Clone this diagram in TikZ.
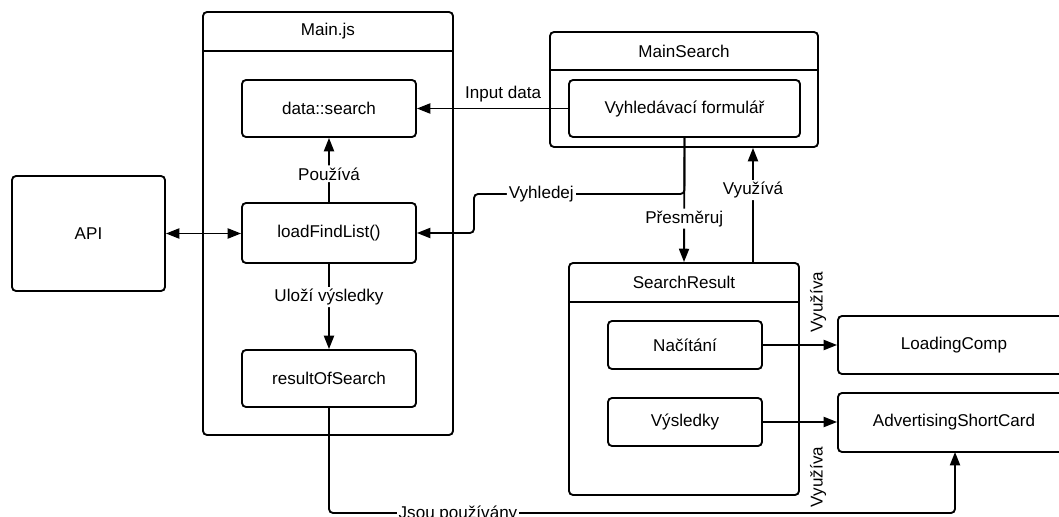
\documentclass[tikz,border=0pt]{standalone}
\usepackage{fontspec}
\setmainfont{Liberation Sans}
\usetikzlibrary{arrows.meta,fit}
\begin{document}
\begin{tikzpicture}[x=0.75pt,y=-0.75pt,
  font=\fontsize{12.8}{15}\selectfont,
  line width=1.4pt,
  box/.style={draw, rounded corners=3pt, inner sep=0pt},
  named/.style={label={[inner sep=0pt]center:#1}},
  link/.style={-{Triangle[length=10pt,width=7.5pt]}, rounded corners=3pt},
  lbl/.style={fill=white, inner sep=1.5pt},
  vlbl/.style={rotate=90, inner sep=1pt}]
\useasboundingbox (0,0) rectangle (1059,517);
\clip (0,0) rectangle (1059,517);

% Main.js container
\node[box, fit={(203,12) (453,435)}] (mainjs) {};
\draw (mainjs.west |- 0,51) -- (mainjs.east |- 0,51);
\node (mainjsT) at (328,31.5) {Main.js};

\node[box, fit={(242,80) (416,137)}, named={data::search}] (search) {};
\node[box, fit={(242,203) (416,263)}, named={loadFindList()}] (load) {};
\node[box, fit={(242,350) (416,407)}, named={resultOfSearch}] (result) {};

% external API
\node[box, fit={(12,176) (165,291)}, named={API}] (api) {};

% MainSearch container
\node[box, fit={(550,32) (818,147)}] (ms) {};
\draw (ms.west |- 0,70) -- (ms.east |- 0,70);
\node (msT) at (684,51) {MainSearch};
\node[box, fit={(569,80) (800,137)}, named={Vyhledávací formulář}] (form) {};

% SearchResult container
\node[box, fit={(569,263) (799,495)}] (sr) {};
\draw (sr.west |- 0,302) -- (sr.east |- 0,302);
\node (srT) at (684,282.5) {SearchResult};
\node[box, fit={(608,321) (762,369)}, named={Načítání}] (nac) {};
\node[box, fit={(608,398) (762,446)}, named={Výsledky}] (vys) {};

% components on the right
\node[box, fit={(838,316) (1070,374)}] (lc) {};
\node at (954,345) {LoadingComp};
\node[box, fit={(838,393) (1070,452)}] (asc) {};
\node at (954,422.5) {AdvertisingShortCard};

% connectors inside Main.js
\draw[link] (load.north) -- node[lbl, pos=0.44] {Používá} (search.south);
\draw[link] (load.south) -- node[lbl, pos=0.39] {Uloží výsledky} (result.north);
\draw[{Triangle[length=10pt,width=7.5pt]}-{Triangle[length=10pt,width=7.5pt]}] (api.east) -- (api.east -| load.west);

% MainSearch links
\draw[link] (form.west) -- node[pos=0.43, above=1pt] {Input data} (form.west -| search.east);
\draw[link] (form.south) -- (form.south |- 0,194) -- node[lbl, pos=0.68] {Vyhledej} (474,194) -- (474,233) -- (load.east);
\draw[link] (form.south) -- node[lbl, pos=0.65] {Přesměruj} (sr.north);
\coordinate (usesTop) at (753,0);
\draw[link] (sr.north -| usesTop) -- node[lbl, pos=0.63] {Využívá} (ms.south -| usesTop);

% SearchResult links
\draw[link] (nac.east) -- (nac.east -| lc.west);
\draw[link] (vys.east) -- (vys.east -| asc.west);
\node[vlbl] (uses1) at (818,302) {Využíva};
\node[vlbl] (uses2) at (818,477) {Využíva};

% result data to the card
\coordinate (cardIn) at (955,452);
\draw[link] (result.south) -- (result.south |- 0,513) -- (cardIn |- 0,513) -- (cardIn);
\node[lbl, anchor=base] (usedLbl) at (458,518) {Jsou používány};
\end{tikzpicture}
\end{document}
